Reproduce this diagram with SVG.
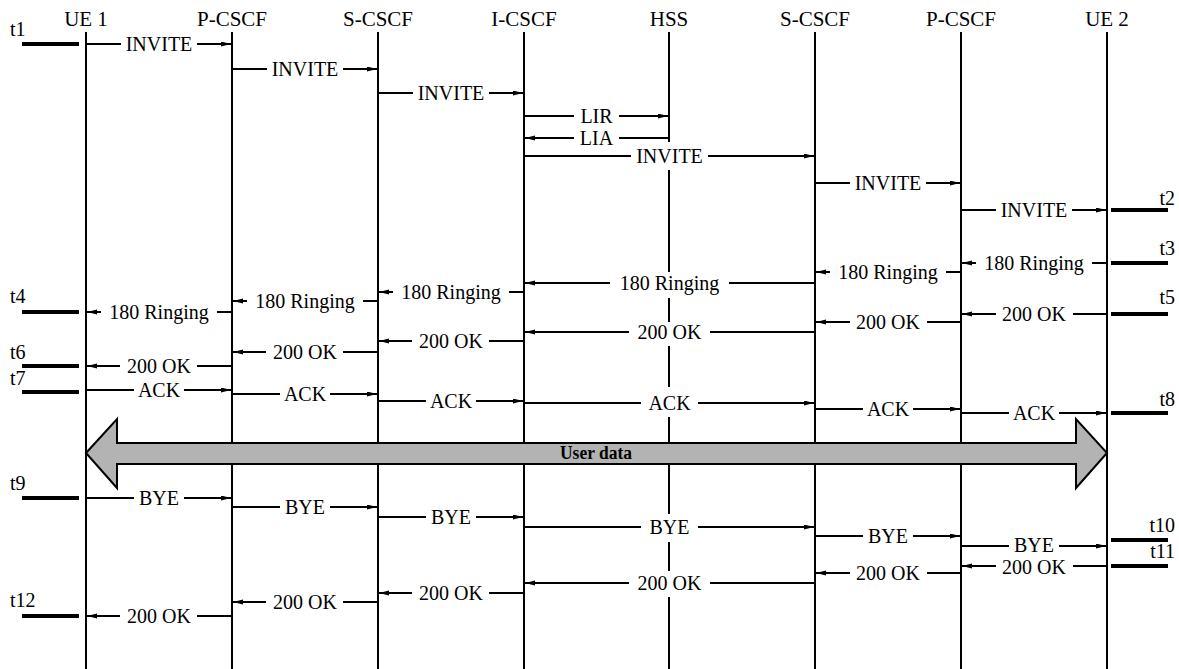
<svg xmlns="http://www.w3.org/2000/svg" width="1179" height="669" viewBox="0 0 1179 669" font-family="'Liberation Serif', Tinos, 'Times New Roman', 'DejaVu Serif', serif">
<defs>
<marker id="ah" markerUnits="userSpaceOnUse" markerWidth="11" markerHeight="6" refX="10" refY="2.5" orient="auto">
<path d="M0,0 L10,2.5 L0,5 z" fill="#000"/>
</marker>
<style>
text{font-family:'Liberation Serif',Tinos,'Times New Roman','DejaVu Serif',serif;font-size:20px;fill:#000}
.hd{text-anchor:middle;font-size:21px}
.life{stroke:#000;stroke-width:2;fill:none}
.msg{stroke:#000;stroke-width:2;fill:none;marker-end:url(#ah)}
.bg{fill:#fff}
.lbl{text-anchor:middle}
.tl{stroke:#000;stroke-width:4}
.tr{text-anchor:end}
.ud{font-weight:bold;font-size:18px;text-anchor:middle}
</style>
</defs>
<rect width="1179" height="669" fill="#fff"/>
<g id="ue1"><text class="hd" x="86" y="26">UE 1</text><line class="life" x1="86" y1="32" x2="86" y2="669"/></g>
<g id="pcscf1"><text class="hd" x="232" y="26">P-CSCF</text><line class="life" x1="232" y1="32" x2="232" y2="669"/></g>
<g id="scscf1"><text class="hd" x="378" y="26">S-CSCF</text><line class="life" x1="378" y1="32" x2="378" y2="669"/></g>
<g id="icscf"><text class="hd" x="524" y="26">I-CSCF</text><line class="life" x1="524" y1="32" x2="524" y2="669"/></g>
<g id="hss"><text class="hd" x="669" y="26">HSS</text><line class="life" x1="669" y1="32" x2="669" y2="669"/></g>
<g id="scscf2"><text class="hd" x="815" y="26">S-CSCF</text><line class="life" x1="815" y1="32" x2="815" y2="669"/></g>
<g id="pcscf2"><text class="hd" x="961" y="26">P-CSCF</text><line class="life" x1="961" y1="32" x2="961" y2="669"/></g>
<g id="ue2"><text class="hd" x="1107" y="26">UE 2</text><line class="life" x1="1107" y1="32" x2="1107" y2="669"/></g>
<g id="connectors">
<line class="msg" x1="86" y1="44" x2="231" y2="44"/><rect class="bg" x="121" y="32" width="76" height="25"/><text class="lbl" x="159" y="51">INVITE</text>
<line class="msg" x1="232" y1="69" x2="377" y2="69"/><rect class="bg" x="267" y="57" width="76" height="25"/><text class="lbl" x="305" y="76">INVITE</text>
<line class="msg" x1="378" y1="93" x2="523" y2="93"/><rect class="bg" x="413" y="81" width="76" height="25"/><text class="lbl" x="451" y="100">INVITE</text>
<line class="msg" x1="524" y1="116" x2="668" y2="116"/><rect class="bg" x="574" y="104" width="45" height="23"/><text class="lbl" x="596.5" y="123">LIR</text>
<line class="msg" x1="669" y1="138" x2="525" y2="138"/><rect class="bg" x="574" y="127" width="45" height="24"/><text class="lbl" x="596.5" y="145">LIA</text>
<line class="msg" x1="524" y1="156" x2="814" y2="156"/><rect class="bg" x="631" y="142" width="77" height="28"/><text class="lbl" x="669.5" y="163">INVITE</text>
<line class="msg" x1="815" y1="183" x2="960" y2="183"/><rect class="bg" x="850" y="171" width="76" height="25"/><text class="lbl" x="888" y="190">INVITE</text>
<line class="msg" x1="961" y1="210" x2="1106" y2="210"/><rect class="bg" x="996" y="198" width="76" height="25"/><text class="lbl" x="1034" y="217">INVITE</text>

<line class="msg" x1="1107" y1="263" x2="962" y2="263"/><rect class="bg" x="976" y="251" width="116" height="25"/><text class="lbl" x="1034" y="270">180 Ringing</text>
<line class="msg" x1="961" y1="272" x2="816" y2="272"/><rect class="bg" x="830" y="260" width="116" height="25"/><text class="lbl" x="888" y="279">180 Ringing</text>
<line class="msg" x1="815" y1="283" x2="525" y2="283"/><rect class="bg" x="610" y="272" width="119" height="26"/><text class="lbl" x="669.5" y="290">180 Ringing</text>
<line class="msg" x1="524" y1="292" x2="379" y2="292"/><rect class="bg" x="393" y="280" width="116" height="25"/><text class="lbl" x="451" y="299">180 Ringing</text>
<line class="msg" x1="378" y1="301" x2="233" y2="301"/><rect class="bg" x="247" y="289" width="116" height="25"/><text class="lbl" x="305" y="308">180 Ringing</text>
<line class="msg" x1="232" y1="312" x2="87" y2="312"/><rect class="bg" x="101" y="300" width="116" height="25"/><text class="lbl" x="159" y="319">180 Ringing</text>

<line class="msg" x1="1107" y1="314" x2="962" y2="314"/><rect class="bg" x="996" y="302" width="77" height="24"/><text class="lbl" x="1034" y="321">200 OK</text>
<line class="msg" x1="961" y1="322" x2="816" y2="322"/><rect class="bg" x="850" y="310" width="77" height="24"/><text class="lbl" x="888" y="329">200 OK</text>
<line class="msg" x1="815" y1="332" x2="525" y2="332"/><rect class="bg" x="629" y="322" width="81" height="24"/><text class="lbl" x="669.5" y="339">200 OK</text>
<line class="msg" x1="524" y1="341" x2="379" y2="341"/><rect class="bg" x="412" y="329" width="77" height="24"/><text class="lbl" x="451" y="348">200 OK</text>
<line class="msg" x1="378" y1="352" x2="233" y2="352"/><rect class="bg" x="266" y="340" width="77" height="24"/><text class="lbl" x="305" y="359">200 OK</text>
<line class="msg" x1="232" y1="366" x2="87" y2="366"/><rect class="bg" x="120" y="354" width="77" height="24"/><text class="lbl" x="159" y="373">200 OK</text>

<line class="msg" x1="86" y1="390" x2="231" y2="390"/><rect class="bg" x="134" y="378" width="50" height="24"/><text class="lbl" x="159" y="397">ACK</text>
<line class="msg" x1="232" y1="394" x2="377" y2="394"/><rect class="bg" x="280" y="382" width="50" height="24"/><text class="lbl" x="305" y="401">ACK</text>
<line class="msg" x1="378" y1="401" x2="523" y2="401"/><rect class="bg" x="426" y="389" width="50" height="24"/><text class="lbl" x="451" y="408">ACK</text>
<line class="msg" x1="524" y1="403" x2="814" y2="403"/><rect class="bg" x="641" y="387" width="57" height="30"/><text class="lbl" x="669.5" y="410">ACK</text>
<line class="msg" x1="815" y1="409" x2="960" y2="409"/><rect class="bg" x="863" y="397" width="50" height="24"/><text class="lbl" x="888" y="416">ACK</text>
<line class="msg" x1="961" y1="413" x2="1106" y2="413"/><rect class="bg" x="1009" y="401" width="50" height="24"/><text class="lbl" x="1034" y="420">ACK</text>

<line class="msg" x1="86" y1="498" x2="231" y2="498"/><rect class="bg" x="134" y="486" width="50" height="24"/><text class="lbl" x="159" y="505">BYE</text>
<line class="msg" x1="232" y1="507" x2="377" y2="507"/><rect class="bg" x="280" y="495" width="50" height="24"/><text class="lbl" x="305" y="514">BYE</text>
<line class="msg" x1="378" y1="517" x2="523" y2="517"/><rect class="bg" x="426" y="505" width="50" height="24"/><text class="lbl" x="451" y="524">BYE</text>
<line class="msg" x1="524" y1="527" x2="814" y2="527"/><rect class="bg" x="641" y="514" width="57" height="28"/><text class="lbl" x="669.5" y="534">BYE</text>
<line class="msg" x1="815" y1="536" x2="960" y2="536"/><rect class="bg" x="863" y="524" width="50" height="24"/><text class="lbl" x="888" y="543">BYE</text>
<line class="msg" x1="961" y1="546" x2="1106" y2="546"/><rect class="bg" x="1009" y="536" width="50" height="17"/><text class="lbl" x="1034" y="552">BYE</text>

<line class="msg" x1="1107" y1="566" x2="962" y2="566"/><rect class="bg" x="996" y="557" width="77" height="20"/><text class="lbl" x="1034" y="574">200 OK</text>
<line class="msg" x1="961" y1="573" x2="816" y2="573"/><rect class="bg" x="850" y="561" width="77" height="24"/><text class="lbl" x="888" y="580">200 OK</text>
<line class="msg" x1="815" y1="583" x2="525" y2="583"/><rect class="bg" x="629" y="571" width="81" height="26"/><text class="lbl" x="669.5" y="590">200 OK</text>
<line class="msg" x1="524" y1="593" x2="379" y2="593"/><rect class="bg" x="412" y="581" width="77" height="24"/><text class="lbl" x="451" y="600">200 OK</text>
<line class="msg" x1="378" y1="602" x2="233" y2="602"/><rect class="bg" x="266" y="590" width="77" height="24"/><text class="lbl" x="305" y="609">200 OK</text>
<line class="msg" x1="232" y1="616" x2="87" y2="616"/><rect class="bg" x="120" y="604" width="77" height="24"/><text class="lbl" x="159" y="623">200 OK</text>
</g>
<g id="user-data">
<polygon points="86,453 117,419 117,443 1076,443 1076,419 1107,453 1076,488 1076,464 117,464 117,488" fill="#b3b3b3" stroke="#000" stroke-width="2" stroke-linejoin="miter"/>
<text class="ud" x="596" y="459" textLength="72" lengthAdjust="spacingAndGlyphs">User data</text>
</g>
<g id="time-marks">
<line class="tl" x1="22" y1="44" x2="79" y2="44"/><text x="10" y="36">t1</text>
<line class="tl" x1="22" y1="312" x2="79" y2="312"/><text x="10" y="303">t4</text>
<line class="tl" x1="22" y1="366" x2="79" y2="366"/><text x="10" y="359">t6</text>
<line class="tl" x1="22" y1="392" x2="79" y2="392"/><text x="10" y="385">t7</text>
<line class="tl" x1="22" y1="498" x2="79" y2="498"/><text x="10" y="490">t9</text>
<line class="tl" x1="22" y1="616" x2="79" y2="616"/><text x="10" y="607">t12</text>
<line class="tl" x1="1111" y1="210" x2="1168" y2="210"/><text class="tr" x="1175" y="205">t2</text>
<line class="tl" x1="1111" y1="263" x2="1168" y2="263"/><text class="tr" x="1175" y="255">t3</text>
<line class="tl" x1="1111" y1="314" x2="1168" y2="314"/><text class="tr" x="1175" y="304">t5</text>
<line class="tl" x1="1111" y1="413" x2="1168" y2="413"/><text class="tr" x="1175" y="406">t8</text>
<line class="tl" x1="1111" y1="540" x2="1168" y2="540"/><text class="tr" x="1175" y="532">t10</text>
<line class="tl" x1="1111" y1="566" x2="1168" y2="566"/><text class="tr" x="1175" y="558">t11</text>
</g>
</svg>
